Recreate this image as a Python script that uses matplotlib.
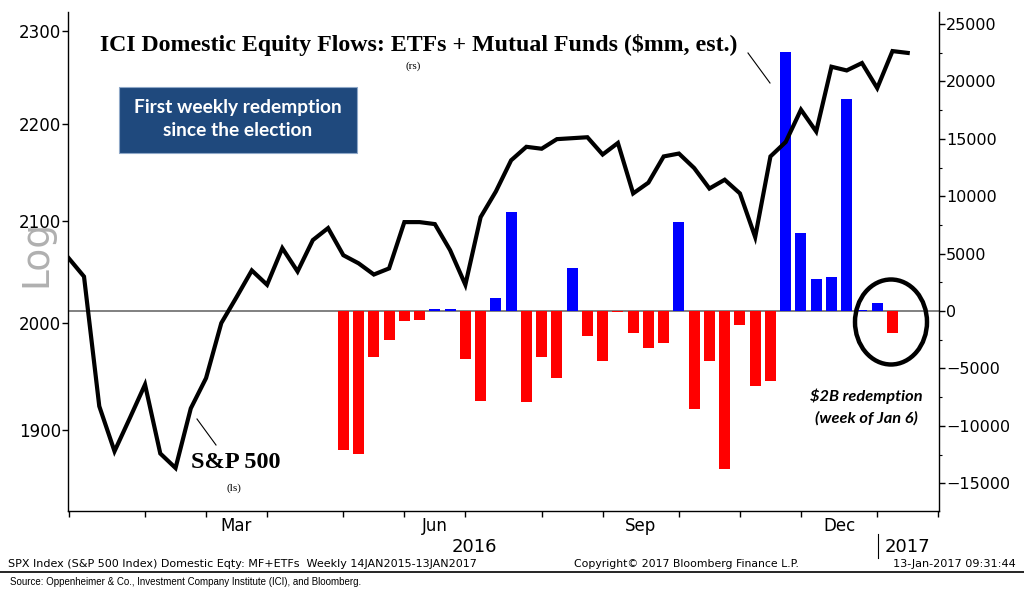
import matplotlib
matplotlib.use("Agg")
import matplotlib.pyplot as plt
from matplotlib.patches import Rectangle, Ellipse
from matplotlib.lines import Line2D
from matplotlib.ticker import FixedLocator, NullLocator, FixedFormatter, MultipleLocator

# weekly S&P 500 closes (week index 0 = 24 Dec 2015)
spx_weeks = list(range(56))
spx = [2063, 2045, 1922, 1881, 1911, 1942, 1879, 1866, 1920, 1948,
       2000, 2025, 2051, 2037, 2073, 2050, 2081, 2093, 2066, 2058,
       2047, 2053, 2099, 2099, 2097, 2071, 2037, 2104, 2130, 2162,
       2176, 2174, 2184, 2185, 2186, 2168, 2180, 2128, 2139, 2166,
       2169, 2154, 2133, 2142, 2128, 2084, 2166, 2181, 2215, 2192,
       2261, 2257, 2265, 2238, 2278, 2276]

# ICI domestic equity flows, $mm
flow_weeks = list(range(18, 55))
flows = [-12100, -12450, -4030, -2530, -870, -780, 150, 150, -4180, -7810,
         1160, 8600, -7900, -3980, -5810, 3720, -2180, -4330, -120, -1950,
         -3250, -2760, 7720, -8570, -4330, -13760, -1220, -6530, -6100, 22560,
         6770, 2760, 2940, 18470, 120, 670, -1950]

month_ticks = [0, 5, 9, 13, 18, 22, 26, 31, 35, 40, 44, 48, 53, 57]
month_label_pos = [11, 24, 37.5, 50.5]
month_labels = ["Mar", "Jun", "Sep", "Dec"]
left_ticks = [1900, 2000, 2100, 2200, 2300]

W, H = 1024, 591
fig = plt.figure(figsize=(W / 100, H / 100), dpi=100)
fig.patch.set_facecolor("white")


def px(x, y):
    return x / W, 1 - y / H


ax = fig.add_axes([68 / W, 1 - 511 / H, (939 - 68) / W, (511 - 12) / H])
ax2 = ax.twinx()
ax.set_zorder(ax2.get_zorder() + 1)
ax.patch.set_visible(False)

# flows (right scale)
colors = ["#0000FF" if v >= 0 else "#FF0000" for v in flows]
ax2.bar(flow_weeks, flows, width=0.72, color=colors, zorder=2)
ax2.axhline(0, color="#808080", lw=1.4, zorder=1)
ax2.set_ylim(-17420, 26045)
ax2.yaxis.set_major_locator(MultipleLocator(5000))
ax2.yaxis.set_minor_locator(MultipleLocator(2500))
ax2.tick_params(axis="y", which="major", labelsize=11.5, length=4, width=1, pad=1, direction="out")
ax2.tick_params(axis="y", which="minor", length=2.5, width=0.8, direction="out")

# S&P line (left log scale)
ax.plot(spx_weeks, spx, color="black", lw=3.0, solid_joinstyle="miter", zorder=5)
ax.set_yscale("log")
ax.set_ylim(1828, 2321)
ax.yaxis.set_major_locator(FixedLocator(left_ticks))
ax.yaxis.set_major_formatter(FixedFormatter([str(t) for t in left_ticks]))
ax.yaxis.set_minor_locator(NullLocator())
ax.tick_params(axis="y", which="major", labelsize=12, length=4, width=1, pad=1, direction="out")

ax.set_xlim(-0.05, 57.05)
ax.set_xticks(month_ticks)
ax.set_xticklabels([""] * len(month_ticks))
ax.set_xticks(month_label_pos, month_labels, minor=True)
ax.tick_params(axis="x", which="major", length=4, width=1, direction="out")
ax.tick_params(axis="x", which="minor", length=0, labelsize=12, pad=4)

for a in (ax, ax2):
    a.spines["top"].set_visible(False)
ax.spines["right"].set_visible(False)
ax2.spines["left"].set_visible(False)
ax2.spines["bottom"].set_visible(False)
for s in ("left", "bottom"):
    ax.spines[s].set_linewidth(1)
ax2.spines["right"].set_linewidth(1)

# year labels
fig.text(*px(474, 547), "2016", fontsize=13, ha="center", va="center")
fig.text(*px(907, 547), "2017", fontsize=13, ha="center", va="center")
fig.add_artist(Line2D([878 / W, 878 / W], [1 - 534 / H, 1 - 558 / H], color="black", lw=0.8))

# "Log" label
fig.text(*px(36, 253), "Log", fontsize=27, color="#b0b0b0", rotation=90, ha="center", va="center")

# titles / labels
serif = "Liberation Serif"
fig.text(*px(100, 45), "ICI Domestic Equity Flows: ETFs + Mutual Funds ($mm, est.)",
         family=serif, fontweight="bold", fontsize=17.2, ha="left", va="center")
fig.text(*px(413, 66), "(rs)", family=serif, fontsize=8, ha="center", va="center")
fig.add_artist(Line2D([748 / W, 770 / W], [1 - 53 / H, 1 - 83 / H], color="black", lw=0.8))

fig.text(*px(236, 463), "S&P 500", family=serif, fontweight="bold", fontsize=17.5, ha="center", va="center")
fig.text(*px(234, 488), "(ls)", family=serif, fontsize=8, ha="center", va="center")
fig.add_artist(Line2D([197 / W, 216 / W], [1 - 419 / H, 1 - 445 / H], color="black", lw=0.8))

# blue callout box
bx0, by0 = px(119, 153)
fig.add_artist(Rectangle((bx0, by0), (357 - 119) / W, (153 - 87) / H, transform=fig.transFigure,
                         facecolor="#1F497D", edgecolor="#8FA8C8", lw=0.8))
fig.text(*px(238, 107), "First weekly redemption", family="Lato", fontweight="bold",
         fontsize=13.8, color="white", ha="center", va="center")
fig.text(*px(238, 131), "since the election", family="Lato", fontweight="bold",
         fontsize=13.8, color="white", ha="center", va="center")

# circle and redemption note
fig.add_artist(Ellipse(px(891, 322), 72 / W, 85 / H, transform=fig.transFigure,
                       fill=False, edgecolor="black", lw=3.2))
fig.text(*px(866, 396), "$2B redemption", family="Lato", fontweight="bold", fontstyle="italic",
         fontsize=11.8, ha="center", va="center")
fig.text(*px(866, 418), "(week of Jan 6)", family="Lato", fontweight="bold", fontstyle="italic",
         fontsize=11.8, ha="center", va="center")

# footer
fig.text(*px(8, 564), "SPX Index (S&P 500 Index) Domestic Eqty: MF+ETFs  Weekly 14JAN2015-13JAN2017",
         fontsize=8, ha="left", va="center")
fig.text(*px(686, 564), "Copyright\u00a9 2017 Bloomberg Finance L.P.", fontsize=7.8, ha="center", va="center")
fig.text(*px(1016, 564), "13-Jan-2017 09:31:44", fontsize=8.1, ha="right", va="center")
fig.add_artist(Line2D([0, 1], [1 - 572 / H, 1 - 572 / H], color="black", lw=1.2))
fig.text(*px(10, 582), "Source: Oppenheimer & Co., Investment Company Institute (ICI), and Bloomberg.",
         family="Liberation Sans", fontsize=7, ha="left", va="center")

fig.savefig("out.png", dpi=100)
